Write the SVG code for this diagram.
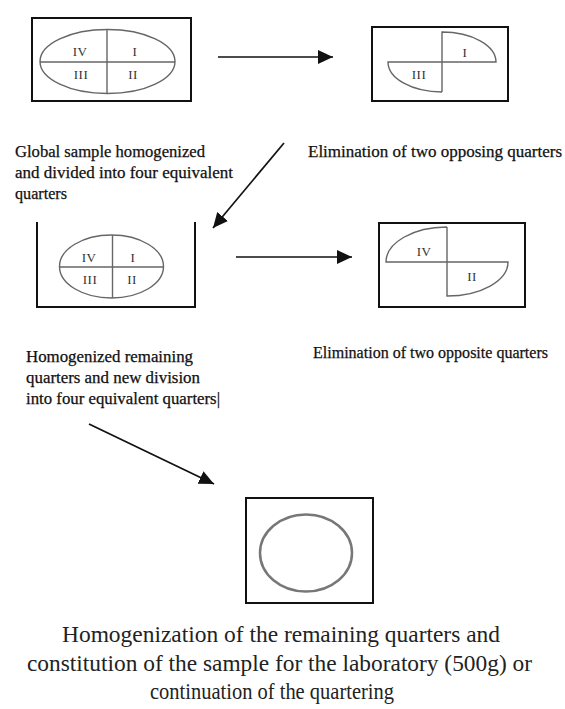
<svg xmlns="http://www.w3.org/2000/svg" width="565" height="709" viewBox="0 0 565 709">
<style>
.box{fill:none;stroke:#111;stroke-width:2}
.shape{fill:none;stroke:#666;stroke-width:1.4}
.num{font-family:"Liberation Serif",serif;font-size:13px;fill:#333;text-anchor:middle;letter-spacing:0.5px}
.cap{font-family:"Liberation Serif",serif;font-size:16px;fill:#111;stroke:#111;stroke-width:0.25}
.big{font-family:"Liberation Serif",serif;font-size:22.5px;fill:#222}
.conn{fill:none;stroke:#111;stroke-width:1.7}
</style>
<defs>
<marker id="ah" markerUnits="userSpaceOnUse" markerWidth="16" markerHeight="14" refX="15" refY="7" orient="auto">
<path d="M0,0 L15,7 L0,14 Z" fill="#111"/>
</marker>
</defs>
<rect width="565" height="709" fill="#fff"/>

<g id="node-global">
<rect class="box" x="32" y="18" width="159" height="83"/>
<ellipse class="shape" cx="107.5" cy="61.5" rx="67.5" ry="32"/>
<line class="shape" x1="40" y1="62" x2="175" y2="62"/>
<line class="shape" x1="107" y1="29.5" x2="107" y2="93.5"/>
<text class="num" x="80" y="56">IV</text>
<text class="num" x="135" y="56">I</text>
<text class="num" x="81" y="79">III</text>
<text class="num" x="133" y="79">II</text>
</g>

<g id="node-elim1">
<rect class="box" x="372" y="27" width="136" height="74"/>
<path class="shape" d="M442,92 L442,32 A54,30 0 0 1 496,62 L388,62 A54,30 0 0 0 442,92"/>
<text class="num" x="465" y="57">I</text>
<text class="num" x="419" y="79">III</text>
</g>

<g id="node-redivide">
<path class="box" d="M37,222 V307 H195 V222"/>
<ellipse class="shape" cx="111.5" cy="266.5" rx="52" ry="31.5"/>
<line class="shape" x1="59.5" y1="267" x2="163.5" y2="267"/>
<line class="shape" x1="112.5" y1="235" x2="112.5" y2="298"/>
<text class="num" x="89" y="262">IV</text>
<text class="num" x="133" y="262">I</text>
<text class="num" x="90" y="284">III</text>
<text class="num" x="132" y="284">II</text>
</g>

<g id="node-elim2">
<rect class="box" x="379" y="223" width="146" height="84"/>
<path class="shape" d="M447,227 L447,296 A61,34 0 0 0 508,262 L386,262 A61,35 0 0 1 447,227"/>
<text class="num" x="424" y="256">IV</text>
<text class="num" x="472" y="281">II</text>
</g>

<g id="node-final">
<rect class="box" x="246" y="498" width="127" height="105"/>
<ellipse cx="306" cy="553" rx="46" ry="38.5" fill="none" stroke="#777" stroke-width="2.5"/>
</g>

<g id="labels">
<text class="cap" x="15" y="157" textLength="190" lengthAdjust="spacingAndGlyphs">Global sample homogenized</text>
<text class="cap" x="15" y="178" textLength="218" lengthAdjust="spacingAndGlyphs">and divided into four equivalent</text>
<text class="cap" x="15" y="199" textLength="52" lengthAdjust="spacingAndGlyphs">quarters</text>
<text class="cap" x="308" y="157" textLength="254" lengthAdjust="spacingAndGlyphs">Elimination of two opposing quarters</text>
<text class="cap" x="26" y="362" textLength="167" lengthAdjust="spacingAndGlyphs">Homogenized remaining</text>
<text class="cap" x="26" y="383" textLength="174" lengthAdjust="spacingAndGlyphs">quarters and new division</text>
<text class="cap" x="26" y="404" textLength="194" lengthAdjust="spacingAndGlyphs">into four equivalent quarters|</text>
<text class="cap" x="313" y="358" textLength="235" lengthAdjust="spacingAndGlyphs">Elimination of two opposite quarters</text>
<text class="big" x="62" y="642" textLength="438" lengthAdjust="spacingAndGlyphs">Homogenization of the remaining quarters and</text>
<text class="big" x="27" y="671" textLength="505" lengthAdjust="spacingAndGlyphs">constitution of the sample for the laboratory (500g) or</text>
<text class="big" x="150" y="699" textLength="244" lengthAdjust="spacingAndGlyphs">continuation of the quartering</text>
</g>

<g id="connectors">
<line class="conn" x1="218" y1="57" x2="333" y2="57" marker-end="url(#ah)"/>
<line class="conn" x1="284" y1="143" x2="213" y2="228" marker-end="url(#ah)"/>
<line class="conn" x1="236" y1="257" x2="352" y2="257" marker-end="url(#ah)"/>
<line class="conn" x1="89" y1="424" x2="214" y2="484" marker-end="url(#ah)"/>
</g>
</svg>
